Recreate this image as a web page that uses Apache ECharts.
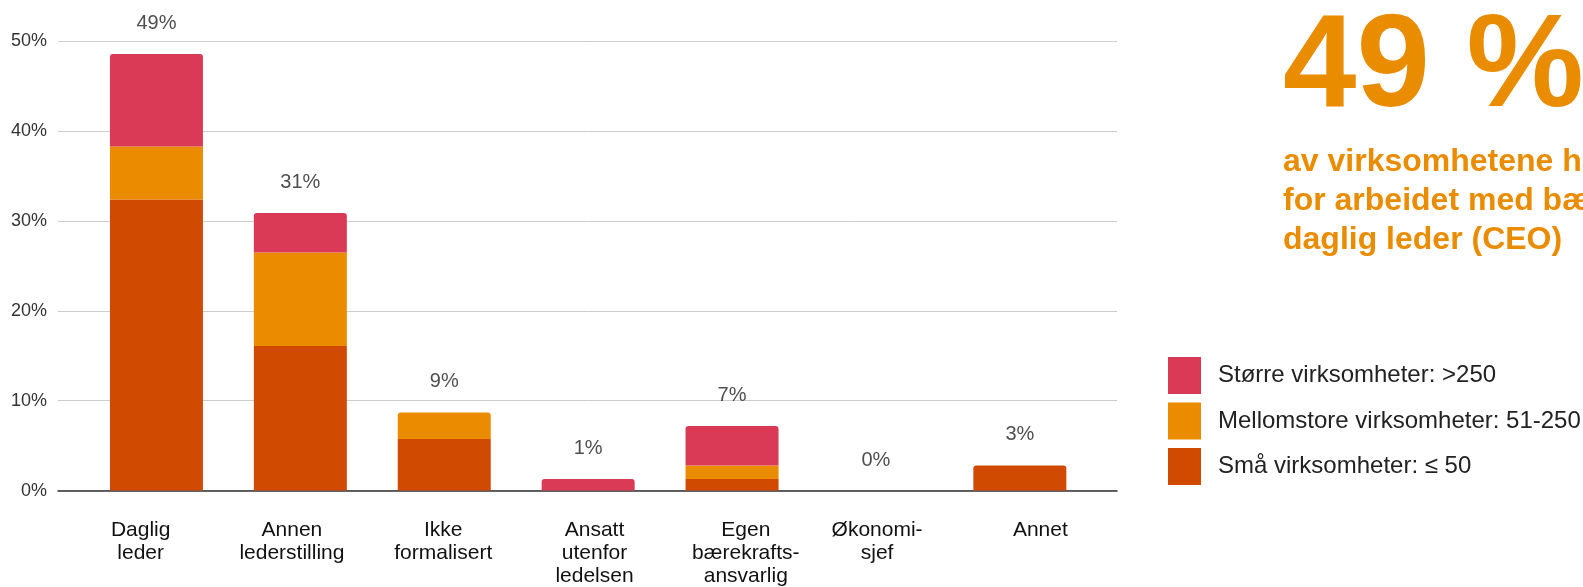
<!DOCTYPE html>
<html><head><meta charset="utf-8">
<script src="https://cdn.jsdelivr.net/npm/echarts@6/dist/echarts.min.js"></script>
<style>html,body{margin:0;padding:0;background:#fff;overflow:hidden}#c{width:1583px;height:587px;}</style>
</head><body><div id="c"></div>
<script>
// ---- data ----
const categories = ['Daglig\nleder', 'Annen\nlederstilling', 'Ikke\nformalisert', 'Ansatt\nutenfor\nledelsen', 'Egen\nbærekrafts-\nansvarlig', 'Økonomi-\nsjef', 'Annet'];
const smallValues  = [32.4, 16.1, 5.75, 0, 1.3, 0, 2.8];   // Små virksomheter: ≤ 50
const mediumValues = [5.9, 10.4, 2.95, 0, 1.5, 0, 0];      // Mellomstore virksomheter: 51-250
const largeValues  = [10.3, 4.4, 0, 1.3, 4.4, 0, 0];       // Større virksomheter: >250
const totalLabels  = [49, 31, 9, 1, 7, 0, 3];
const yTicks = [0, 10, 20, 30, 40, 50];
const seriesNames = ['Små virksomheter: ≤ 50', 'Mellomstore virksomheter: 51-250', 'Større virksomheter: >250'];
const legendOrder = ['Større virksomheter: >250', 'Mellomstore virksomheter: 51-250', 'Små virksomheter: ≤ 50'];
const headline = '49 %';
const subtitleLines = ['av virksomhetene har ansvaret', 'for arbeidet med bærekraft hos', 'daglig leder (CEO)'];

// ---- styling ----
const colors = ['#D04A02', '#EB8C00', '#DB3A57'];
const FONT = '"Liberation Sans", Arial, sans-serif';
const labelShift = [0, 0, 0, 0, 0, 40, 16]; // extra right padding (px) to nudge label left

const stacks = [smallValues, mediumValues, largeValues];
function itemsFor(si) {
  return stacks[si].map((v, i) => {
    let top = -1;
    stacks.forEach((arr, k) => { if (arr[i] > 0) top = k; });
    return top === si ? { value: v, itemStyle: { borderRadius: [3, 3, 0, 0] } } : v;
  });
}
const totals = categories.map((_, i) => stacks.reduce((s, arr) => s + arr[i], 0));

const rich = {};
labelShift.forEach((p, i) => {
  rich['s' + i] = { fontFamily: FONT, fontSize: 21, lineHeight: 23, color: '#111', padding: [0, p, 0, 0] };
});

const GT = 41.3, GB = 587 - 490.6;
const chart = echarts.init(document.getElementById('c'), null, { renderer: 'canvas' });
chart.setOption({
  animation: false,
  backgroundColor: '#fff',
  grid: [
    { left: 58, width: 1059, top: GT, bottom: GB },
    { left: 84.5, width: 1007.3, top: GT, bottom: GB },
    { left: 65, width: 1059, top: GT, bottom: GB }
  ],
  xAxis: [
    { gridIndex: 0, type: 'value', min: 0, max: 1, axisLine: { show: true, lineStyle: { color: '#333', width: 1.5 } },
      axisTick: { show: false }, axisLabel: { show: false }, splitLine: { show: false } },
    { gridIndex: 1, type: 'category', data: categories, show: false },
    { gridIndex: 2, type: 'category', data: categories, axisLine: { show: false }, axisTick: { show: false },
      axisLabel: { margin: 29, interval: 0,
        formatter: (v, idx) => v.split('\n').map(l => '{s' + idx + '|' + l + '}').join('\n'),
        rich: rich } }
  ],
  yAxis: [
    { gridIndex: 0, type: 'value', min: yTicks[0], max: yTicks[yTicks.length - 1], interval: 10,
      axisLine: { show: false }, axisTick: { show: false },
      axisLabel: { formatter: '{value}%', fontSize: 18, fontFamily: FONT, color: '#333', margin: 11 },
      splitLine: { lineStyle: { color: '#CCCCCC', width: 1 } } },
    { gridIndex: 1, type: 'value', min: 0, max: 50, show: false },
    { gridIndex: 2, type: 'value', min: 0, max: 50, show: false }
  ],
  legend: {
    data: legendOrder, orient: 'vertical', left: 1163, top: 352,
    itemWidth: 33, itemHeight: 37, itemGap: 8.5, icon: 'rect',
    textStyle: { fontSize: 24, fontFamily: FONT, color: '#222', padding: [0, 0, 0, 12] }
  },
  series: [
    ...seriesNames.map((n, si) => ({
      name: n, type: 'bar', stack: 'a', stackStrategy: 'all', xAxisIndex: 1, yAxisIndex: 1,
      barWidth: 93, itemStyle: { color: colors[si] }, data: itemsFor(si)
    })),
    {
      name: 'total', type: 'scatter', xAxisIndex: 1, yAxisIndex: 1, symbolSize: 1,
      itemStyle: { color: 'rgba(0,0,0,0)' }, silent: true,
      label: { show: true, position: 'top', distance: 20, fontSize: 20, lineHeight: 20, fontFamily: FONT, color: '#222',
        formatter: p => totalLabels[p.dataIndex] + '%' },
      data: totals
    }
  ],
  graphic: [
    { type: 'text', x: 1283, y: 70, style: { text: headline, fontSize: 132, fontWeight: 'bold', fontFamily: FONT,
      fill: '#EA8C00', verticalAlign: 'middle', align: 'left' } },
    { type: 'text', x: 1283, y: 142.6, style: { text: subtitleLines.join('\n'), fontSize: 32, fontWeight: 'bold', fontFamily: FONT,
      lineHeight: 39, fill: '#EA8C00', verticalAlign: 'top', align: 'left' } }
  ]
});
</script>
</body></html>
